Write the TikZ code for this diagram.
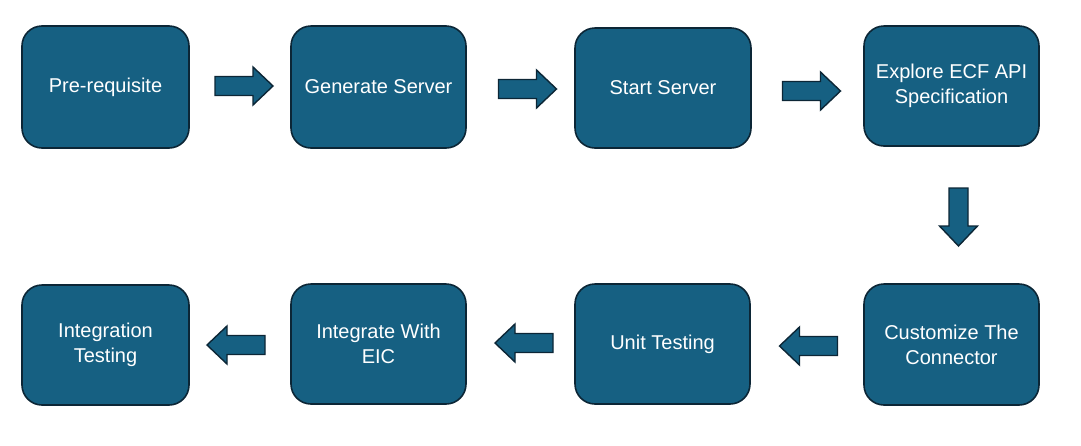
\documentclass[tikz,border=0pt]{standalone}
\usepackage{fontspec}
\setmainfont{Liberation Sans}
\definecolor{boxfill}{RGB}{22,96,130}
\definecolor{boxline}{RGB}{12,38,54}
\begin{document}
\begin{tikzpicture}[x=1pt,y=-1pt,
  stepbox/.style={draw=boxline,fill=boxfill,line width=1.6pt,rounded corners=20pt,
    text=white,font=\fontsize{20}{25}\selectfont,align=center,inner sep=0pt},
  blockarrow/.pic={\draw[draw=boxline,fill=boxfill,line width=1.4pt,line join=miter]
    (-29,-9.5) -- (9,-9.5) -- (9,-19) -- (29,0) -- (9,19) -- (9,9.5) -- (-29,9.5) -- cycle;}
]
\useasboundingbox (0,0) rectangle (1081,445);
% top row
\node[stepbox,minimum width=167pt,minimum height=122pt] (pre) at (105.5,87) {Pre-requisite};
\node[stepbox,minimum width=175pt,minimum height=122pt] (gen) at (378.5,87) {Generate Server};
\node[stepbox,minimum width=176pt,minimum height=120pt] (start) at (663,88) {Start Server};
\node[stepbox,minimum width=175pt,minimum height=120pt] (expl) at (951.5,86) {Explore ECF API\\Specification};
% bottom row
\node[stepbox,minimum width=175pt,minimum height=121pt] (cust) at (951.5,344.5) {Customize The\\Connector};
\node[stepbox,minimum width=175pt,minimum height=120pt] (unit) at (662.5,344) {Unit Testing};
\node[stepbox,minimum width=175pt,minimum height=120pt] (eic) at (378.5,344) {Integrate With\\EIC};
\node[stepbox,minimum width=167pt,minimum height=120pt] (integ) at (105.5,345) {Integration\\Testing};
% block arrows
\pic at (244,86) {blockarrow};
\pic at (527.5,89) {blockarrow};
\pic at (811.5,91) {blockarrow};
\pic[rotate=-90] at (958.5,217) {blockarrow};
\pic[rotate=180] at (236,345) {blockarrow};
\pic[rotate=180] at (524,343) {blockarrow};
\pic[rotate=180] at (808.5,346) {blockarrow};
\end{tikzpicture}
\end{document}
